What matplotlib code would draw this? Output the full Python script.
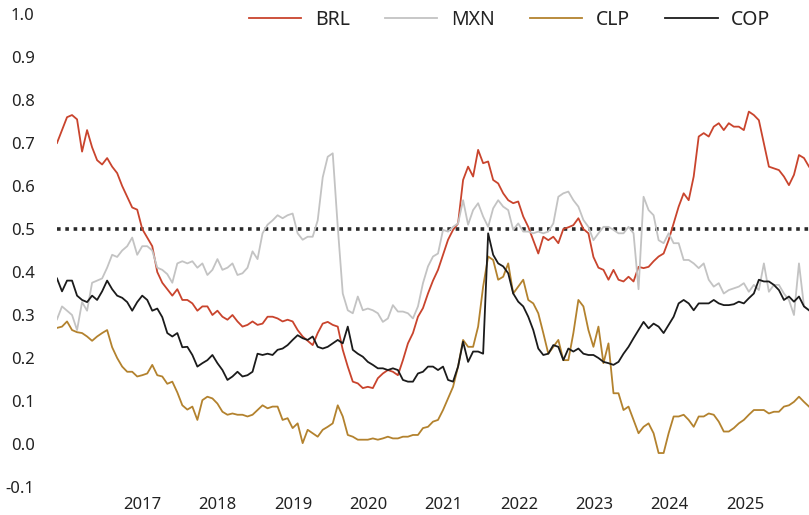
import matplotlib
matplotlib.use("Agg")
import matplotlib.pyplot as plt
import matplotlib.ticker as mticker
import pandas as pd

# Sampled roughly every 3.5 weeks, Nov 2015 -> Nov 2025
start_date = "2015-11-13"
end_date = "2025-11-08"
year_ticks = [2017, 2018, 2019, 2020, 2021, 2022, 2023, 2024, 2025]

brl = [
    0.70, 0.73, 0.76, 0.765, 0.755, 0.68, 0.73, 0.69, 0.66, 0.65,
    0.665, 0.645, 0.63, 0.60, 0.575, 0.55, 0.545, 0.50, 0.48, 0.46,
    0.40, 0.375, 0.36, 0.345, 0.36, 0.335,
    0.335, 0.327, 0.31, 0.32, 0.32, 0.30, 0.31, 0.296, 0.289, 0.30,
    0.285, 0.273, 0.277, 0.285, 0.277, 0.28, 0.296, 0.296, 0.292, 0.285,
    0.289, 0.285, 0.265, 0.25, 0.24,
    0.23, 0.258, 0.28, 0.284, 0.277, 0.273, 0.219, 0.18, 0.145, 0.141,
    0.13, 0.133, 0.13, 0.153, 0.164, 0.172, 0.168, 0.16, 0.195, 0.234,
    0.258, 0.296, 0.316, 0.35, 0.38,
    0.405, 0.44, 0.475, 0.498, 0.513, 0.614, 0.645, 0.622, 0.684, 0.653,
    0.657, 0.614, 0.606, 0.583, 0.567, 0.56, 0.564, 0.529, 0.505, 0.474,
    0.443, 0.482, 0.474, 0.482, 0.467,
    0.50, 0.504, 0.509, 0.525, 0.50, 0.49, 0.435, 0.41, 0.405, 0.382,
    0.405, 0.382, 0.378, 0.389, 0.378, 0.412, 0.409, 0.412, 0.425, 0.436,
    0.443, 0.474, 0.513, 0.552, 0.583,
    0.567, 0.622, 0.715, 0.723, 0.715, 0.738, 0.746, 0.73, 0.746, 0.738,
    0.738, 0.73, 0.773, 0.765, 0.753, 0.699, 0.645, 0.641, 0.637, 0.622,
    0.602, 0.626, 0.672, 0.665, 0.645,
]

mxn = [
    0.29, 0.32, 0.31, 0.30, 0.265, 0.33, 0.31, 0.375, 0.38, 0.385,
    0.41, 0.44, 0.435, 0.45, 0.46, 0.48, 0.44, 0.46, 0.46, 0.45,
    0.41, 0.405, 0.395, 0.375, 0.42, 0.425,
    0.42, 0.425, 0.41, 0.42, 0.393, 0.405, 0.43, 0.405, 0.41, 0.42,
    0.393, 0.397, 0.41, 0.448, 0.43, 0.49, 0.51, 0.52, 0.532, 0.525,
    0.532, 0.536, 0.49, 0.475, 0.482,
    0.482, 0.52, 0.62, 0.668, 0.676, 0.505, 0.35, 0.311, 0.304, 0.343,
    0.311, 0.315, 0.311, 0.304, 0.284, 0.292, 0.323, 0.308, 0.308, 0.304,
    0.292, 0.32, 0.374, 0.413, 0.436,
    0.443, 0.498, 0.494, 0.505, 0.513, 0.567, 0.51, 0.544, 0.56, 0.529,
    0.505, 0.548, 0.567, 0.552, 0.544, 0.498, 0.513, 0.494, 0.494, 0.49,
    0.494, 0.49, 0.494, 0.513, 0.575,
    0.583, 0.587, 0.567, 0.552, 0.521, 0.505, 0.474, 0.49, 0.505, 0.505,
    0.498, 0.49, 0.49, 0.505, 0.49, 0.36, 0.575, 0.544, 0.532, 0.474,
    0.467, 0.49, 0.467, 0.467, 0.428,
    0.428, 0.42, 0.409, 0.42, 0.382, 0.366, 0.374, 0.35, 0.358, 0.362,
    0.366, 0.374, 0.354, 0.37, 0.358, 0.42, 0.354, 0.37, 0.37, 0.35,
    0.335, 0.30, 0.42, 0.32, 0.311,
]

clp = [
    0.27, 0.273, 0.285, 0.265, 0.26, 0.258, 0.25, 0.24, 0.25, 0.258,
    0.265, 0.225, 0.20, 0.18, 0.168, 0.168, 0.157, 0.16, 0.164, 0.184,
    0.16, 0.157, 0.14, 0.145, 0.12, 0.09,
    0.08, 0.087, 0.056, 0.102, 0.11, 0.106, 0.094, 0.075, 0.068, 0.071,
    0.068, 0.068, 0.064, 0.068, 0.079, 0.09, 0.083, 0.087, 0.087, 0.056,
    0.06, 0.037, 0.048, 0.002, 0.033,
    0.025, 0.017, 0.033, 0.04, 0.048, 0.09, 0.064, 0.021, 0.017, 0.01,
    0.01, 0.01, 0.013, 0.01, 0.013, 0.017, 0.013, 0.013, 0.017, 0.017,
    0.021, 0.021, 0.037, 0.04, 0.052,
    0.056, 0.079, 0.106, 0.133, 0.18, 0.242, 0.226, 0.226, 0.273, 0.366,
    0.436, 0.428, 0.382, 0.389, 0.42, 0.35, 0.366, 0.382, 0.335, 0.327,
    0.304, 0.258, 0.21, 0.226, 0.242,
    0.195, 0.195, 0.258, 0.335, 0.32, 0.265, 0.226, 0.273, 0.188, 0.234,
    0.118, 0.118, 0.079, 0.087, 0.056, 0.025, 0.04, 0.048, 0.025, -0.021,
    -0.021, 0.025, 0.064, 0.064, 0.068,
    0.056, 0.04, 0.064, 0.064, 0.071, 0.068, 0.052, 0.029, 0.029, 0.037,
    0.048, 0.056, 0.068, 0.079, 0.079, 0.079, 0.071, 0.075, 0.075, 0.087,
    0.09, 0.098, 0.11, 0.098, 0.087,
]

cop = [
    0.385, 0.355, 0.38, 0.38, 0.345, 0.335, 0.33, 0.345, 0.335, 0.355,
    0.38, 0.36, 0.345, 0.34, 0.33, 0.31, 0.33, 0.345, 0.335, 0.31,
    0.315, 0.295, 0.258, 0.25, 0.258, 0.225,
    0.226, 0.207, 0.18, 0.188, 0.195, 0.207, 0.188, 0.172, 0.149, 0.157,
    0.168, 0.157, 0.16, 0.168, 0.21, 0.207, 0.21, 0.207, 0.219, 0.222,
    0.23, 0.242, 0.253, 0.246, 0.242,
    0.25, 0.226, 0.222, 0.226, 0.234, 0.242, 0.234, 0.273, 0.219, 0.21,
    0.203, 0.191, 0.184, 0.176, 0.176, 0.172, 0.176, 0.172, 0.149, 0.145,
    0.145, 0.164, 0.168, 0.18, 0.18,
    0.172, 0.18, 0.149, 0.145, 0.18, 0.238, 0.191, 0.215, 0.215, 0.21,
    0.49, 0.44, 0.42, 0.413, 0.397, 0.35, 0.331, 0.32, 0.296, 0.265,
    0.222, 0.207, 0.21, 0.23, 0.226,
    0.195, 0.222, 0.215, 0.222, 0.21, 0.207, 0.207, 0.20, 0.191, 0.188,
    0.184, 0.191, 0.21, 0.226, 0.246, 0.265, 0.284, 0.269, 0.28, 0.273,
    0.258, 0.277, 0.296, 0.327, 0.335,
    0.327, 0.311, 0.327, 0.327, 0.327, 0.335, 0.327, 0.323, 0.323, 0.325,
    0.331, 0.327, 0.339, 0.35, 0.382, 0.378, 0.378, 0.37, 0.358, 0.335,
    0.343, 0.331, 0.343, 0.32, 0.311,
]

series = [
    ("BRL", brl, "#c9442d"),
    ("MXN", mxn, "#c3c3c3"),
    ("CLP", clp, "#b3822e"),
    ("COP", cop, "#1b1b1b"),
]

dates = pd.date_range(start_date, end_date, periods=len(brl))

plt.rcParams["font.family"] = ["Noto Sans", "DejaVu Sans"]

fig = plt.figure(figsize=(8.09, 5.15), dpi=100)
ax = fig.add_axes([57 / 809, 28 / 515, 752 / 809, 473 / 515])

for name, vals, color in series:
    ax.plot(dates, vals, color=color, lw=1.3, label=name)

# 0.5 threshold line
ax.axhline(0.5, color="#2a2a2a", lw=2.6, ls=(0, (1, 1.3)), zorder=1)

ax.set_ylim(-0.1, 1.0)
ax.set_yticks([-0.1, 0.0, 0.1, 0.2, 0.3, 0.4, 0.5, 0.6, 0.7, 0.8, 0.9, 1.0])
ax.yaxis.set_major_formatter(mticker.FormatStrFormatter("%.1f"))
ax.set_xlim(dates[0], dates[-1])
ax.set_xticks([pd.Timestamp(f"{y}-01-01") for y in year_ticks])
ax.set_xticklabels([str(y) for y in year_ticks])

for s in ax.spines.values():
    s.set_visible(False)
ax.tick_params(axis="both", length=0, labelsize=12, colors="#222222")
ax.tick_params(axis="y", pad=16)
ax.tick_params(axis="x", pad=7)

leg = fig.legend(loc="center", bbox_to_anchor=(0.630, 0.961), ncol=4,
                 frameon=False, fontsize=14, handlelength=2.7,
                 handletextpad=0.7, columnspacing=1.8)
for t in leg.get_texts():
    t.set_color("#222222")

fig.savefig("out.png", dpi=100, facecolor="white")
